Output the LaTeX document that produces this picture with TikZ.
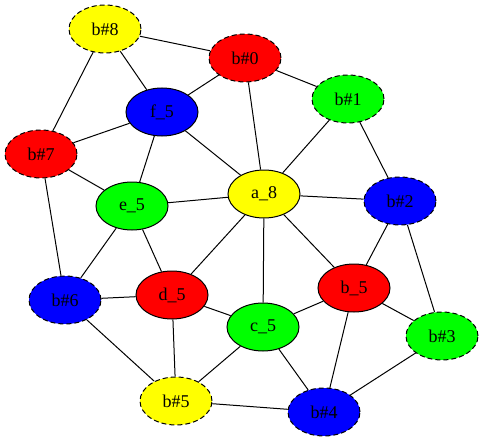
\documentclass[tikz,border=0pt]{standalone}
\usepackage{fontspec}
\setmainfont{Liberation Serif}
\usetikzlibrary{shapes.geometric}
\pgfdeclarelayer{bg}
\pgfsetlayers{bg,main}
\definecolor{gyellow}{RGB}{255,255,0}
\definecolor{gred}{RGB}{255,0,0}
\definecolor{ggreen}{RGB}{0,255,0}
\definecolor{gblue}{RGB}{0,0,255}
\tikzset{
  gnode/.style={ellipse, draw=black, line width=1pt, minimum width=72pt, minimum height=48pt, inner sep=0pt, font=\fontsize{18}{20}\selectfont},
  bnode/.style={gnode, dashed, dash pattern=on 5pt off 3pt},
  edge/.style={draw=black, line width=1pt},
}
\begin{document}
\begin{tikzpicture}[x=1pt,y=-1pt]
\useasboundingbox (0,0) rectangle (484,441);
\node[bnode, fill=gyellow] (b8) at (105,29) {b\#8};
\node[bnode, fill=gred] (b0) at (245,58) {b\#0};
\node[bnode, fill=ggreen] (b1) at (348,99) {b\#1};
\node[gnode, fill=gblue] (f5) at (162,112) {f\_5};
\node[bnode, fill=gred] (b7) at (41,154) {b\#7};
\node[gnode, fill=gyellow] (a8) at (264,194) {a\_8};
\node[bnode, fill=gblue] (b2) at (400,201) {b\#2};
\node[gnode, fill=ggreen] (e5) at (132,206) {e\_5};
\node[bnode, fill=gblue] (b6) at (65,300) {b\#6};
\node[gnode, fill=gred] (d5) at (172,295) {d\_5};
\node[gnode, fill=gred] (b5) at (354,288) {b\_5};
\node[gnode, fill=ggreen] (c5) at (263,327) {c\_5};
\node[bnode, fill=ggreen] (b3) at (442,336) {b\#3};
\node[bnode, fill=gyellow] (b5h) at (176,401) {b\#5};
\node[bnode, fill=gblue] (b4) at (324,412) {b\#4};
\begin{pgfonlayer}{bg}
\foreach \a/\b in {b8/b0,b8/f5,b8/b7,b0/f5,b0/b1,b0/a8,b1/a8,b1/b2,f5/b7,f5/a8,f5/e5,b7/e5,b7/b6,a8/e5,a8/b2,a8/d5,a8/c5,a8/b5,b2/b5,b2/b3,e5/b6,e5/d5,b6/d5,b6/b5h,d5/c5,d5/b5h,b5/c5,b5/b3,b5/b4,c5/b5h,c5/b4,b5h/b4,b4/b3}
  \draw[edge] (\a) -- (\b);
\end{pgfonlayer}
\end{tikzpicture}
\end{document}
